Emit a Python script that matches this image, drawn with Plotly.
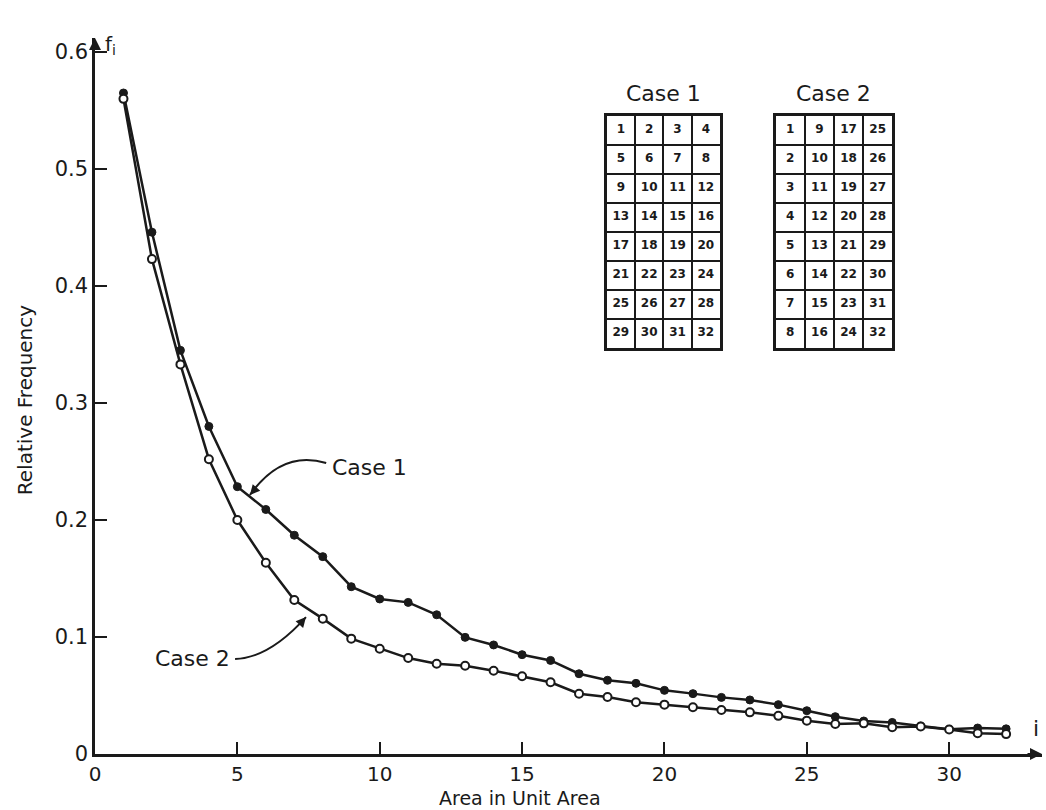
import plotly.graph_objects as go

# ---- data ----
area_index = list(range(1, 33))
case1_freq = [0.565, 0.446, 0.345, 0.280, 0.2285, 0.209, 0.187, 0.1687, 0.143, 0.1325,
              0.1296, 0.119, 0.0997, 0.0932, 0.0849, 0.080, 0.0686, 0.063, 0.0604, 0.0544,
              0.0516, 0.0484, 0.0462, 0.0422, 0.037, 0.0319, 0.0282, 0.027, 0.0239, 0.0211,
              0.0222, 0.0215]
case2_freq = [0.560, 0.423, 0.333, 0.252, 0.200, 0.1635, 0.1316, 0.1157, 0.0986, 0.090,
              0.082, 0.0772, 0.0755, 0.0712, 0.0664, 0.0613, 0.0515, 0.0487, 0.0442, 0.0422,
              0.0399, 0.0376, 0.0356, 0.0326, 0.0285, 0.0256, 0.0262, 0.0228, 0.0235, 0.021,
              0.0178, 0.0170]
x_ticks = [0, 5, 10, 15, 20, 25, 30]
y_ticks = [0, 0.1, 0.2, 0.3, 0.4, 0.5, 0.6]
y_ticktext = ["0", "0.1", "0.2", "0.3", "0.4", "0.5", "0.6"]

case1_grid = [[1, 2, 3, 4], [5, 6, 7, 8], [9, 10, 11, 12], [13, 14, 15, 16],
              [17, 18, 19, 20], [21, 22, 23, 24], [25, 26, 27, 28], [29, 30, 31, 32]]
case2_grid = [[1, 9, 17, 25], [2, 10, 18, 26], [3, 11, 19, 27], [4, 12, 20, 28],
              [5, 13, 21, 29], [6, 14, 22, 30], [7, 15, 23, 31], [8, 16, 24, 32]]

FONT = "DejaVu Sans"
INK = "#1a1a1a"

fig = go.Figure()

fig.add_trace(go.Scatter(
    x=area_index, y=case1_freq, mode="lines+markers", name="Case 1",
    line=dict(color=INK, width=2.5),
    marker=dict(symbol="circle", size=8, color=INK, line=dict(color=INK, width=1)),
    cliponaxis=False, showlegend=False))
fig.add_trace(go.Scatter(
    x=area_index, y=case2_freq, mode="lines+markers", name="Case 2",
    line=dict(color=INK, width=2.5),
    marker=dict(symbol="circle", size=8, color="white", line=dict(color=INK, width=2)),
    cliponaxis=False, showlegend=False))


def add_grid_table(grid, xa, ya, dom_x, title):
    nrows = len(grid)
    ncols = len(grid[0])
    xs, ys, ts = [], [], []
    for r, row in enumerate(grid):
        for c, v in enumerate(row):
            xs.append(c + 0.5)
            ys.append(r + 0.5)
            ts.append("<b>%d</b>" % v)
    fig.add_trace(go.Scatter(
        x=xs, y=ys, text=ts, mode="text", xaxis=xa, yaxis=ya,
        textfont=dict(family=FONT, size=12, color=INK), showlegend=False,
        hoverinfo="skip"))
    axkey_x = "xaxis" + xa[1:]
    axkey_y = "yaxis" + ya[1:]
    fig.update_layout(**{
        axkey_x: dict(domain=dom_x, range=[0, ncols], anchor=ya, dtick=1, tick0=0,
                      showgrid=True, gridcolor=INK, gridwidth=2, zeroline=False,
                      showline=True, mirror=True, linecolor=INK, linewidth=3,
                      showticklabels=False, ticks="", fixedrange=True),
        axkey_y: dict(domain=[0.5675, 0.8915], range=[nrows, 0], anchor=xa, dtick=1,
                      tick0=0, showgrid=True, gridcolor=INK, gridwidth=2, zeroline=False,
                      showline=True, mirror=True, linecolor=INK, linewidth=3,
                      showticklabels=False, ticks="", fixedrange=True),
    })
    fig.add_annotation(text=title, xref=xa + " domain", yref=ya + " domain",
                       x=0.5, y=1, yanchor="bottom", yshift=8, showarrow=False,
                       font=dict(family=FONT, size=22, color=INK))


add_grid_table(case1_grid, "x2", "y2", [0.5403, 0.6600], "Case 1")
add_grid_table(case2_grid, "x3", "y3", [0.7188, 0.8419], "Case 2")

# curved leaders for labels
fig.add_shape(type="path", xref="x", yref="y",
              path="M 8.12,0.2487 Q 6.57,0.2603 5.44,0.2214",
              line=dict(color=INK, width=2))
fig.add_shape(type="path", xref="x", yref="y",
              path="M 4.92,0.0812 Q 6.12,0.0821 7.41,0.117",
              line=dict(color=INK, width=2))
fig.add_annotation(x=5.44, y=0.2214, xref="x", yref="y", ax=7, ay=-8, text=" ",
                   showarrow=True, arrowhead=2, arrowsize=1, arrowwidth=2,
                   arrowcolor=INK, standoff=0)
fig.add_annotation(x=7.41, y=0.117, xref="x", yref="y", ax=-7, ay=8, text=" ",
                   showarrow=True, arrowhead=2, arrowsize=1, arrowwidth=2,
                   arrowcolor=INK, standoff=0)
fig.add_annotation(x=8.25, y=0.2453, xref="x", yref="y", text="Case 1",
                   xanchor="left", yanchor="middle", showarrow=False,
                   font=dict(family=FONT, size=22, color=INK))
fig.add_annotation(x=4.8, y=0.082, xref="x", yref="y", text="Case 2",
                   xanchor="right", yanchor="middle", showarrow=False,
                   font=dict(family=FONT, size=22, color=INK))

# axis arrows and symbols
fig.add_annotation(x=0, y=1, xref="paper", yref="paper", ax=0, ay=18, text=" ",
                   showarrow=True, arrowhead=2, arrowsize=1.2, arrowwidth=2,
                   arrowcolor=INK, standoff=0)
fig.add_annotation(x=1, y=0, xref="paper", yref="paper", ax=-18, ay=0, text=" ",
                   showarrow=True, arrowhead=2, arrowsize=1.2, arrowwidth=2,
                   arrowcolor=INK, standoff=0)
fig.add_annotation(x=0.008, y=0.99, xref="paper", yref="paper", text="f<sub>i</sub>",
                   xanchor="left", yanchor="middle", showarrow=False,
                   font=dict(family=FONT, size=20, color=INK))
fig.add_annotation(x=0.9937, y=0.036, xref="paper", yref="paper", text="i",
                   xanchor="center", yanchor="middle", showarrow=False,
                   font=dict(family=FONT, size=22, color=INK))

# axis titles
fig.add_annotation(x=0.449, y=-0.061, xref="paper", yref="paper",
                   text="Area in Unit Area", showarrow=False,
                   xanchor="center", yanchor="middle",
                   font=dict(family=FONT, size=19, color=INK))
fig.add_annotation(x=-0.074, y=0.494, xref="paper", yref="paper",
                   text="Relative Frequency", textangle=-90, showarrow=False,
                   xanchor="center", yanchor="middle",
                   font=dict(family=FONT, size=20, color=INK))

fig.update_layout(
    width=1046, height=810,
    margin=dict(l=95, r=4, t=38, b=56),
    paper_bgcolor="white", plot_bgcolor="white",
    font=dict(family=FONT, color=INK),
    xaxis=dict(range=[0, 33.26], tickvals=x_ticks, ticks="inside", ticklen=12,
               tickwidth=2, tickcolor=INK, showline=True, linecolor=INK, linewidth=2.5,
               zeroline=False, showgrid=False, tickfont=dict(family=FONT, size=20, color=INK)),
    yaxis=dict(range=[0, 0.612], tickvals=y_ticks, ticktext=y_ticktext, ticks="inside",
               ticklen=12, tickwidth=2, tickcolor=INK, showline=True, linecolor=INK,
               linewidth=2.5, zeroline=False, showgrid=False,
               tickfont=dict(family=FONT, size=21, color=INK)),
)

fig.write_html("out.html")
